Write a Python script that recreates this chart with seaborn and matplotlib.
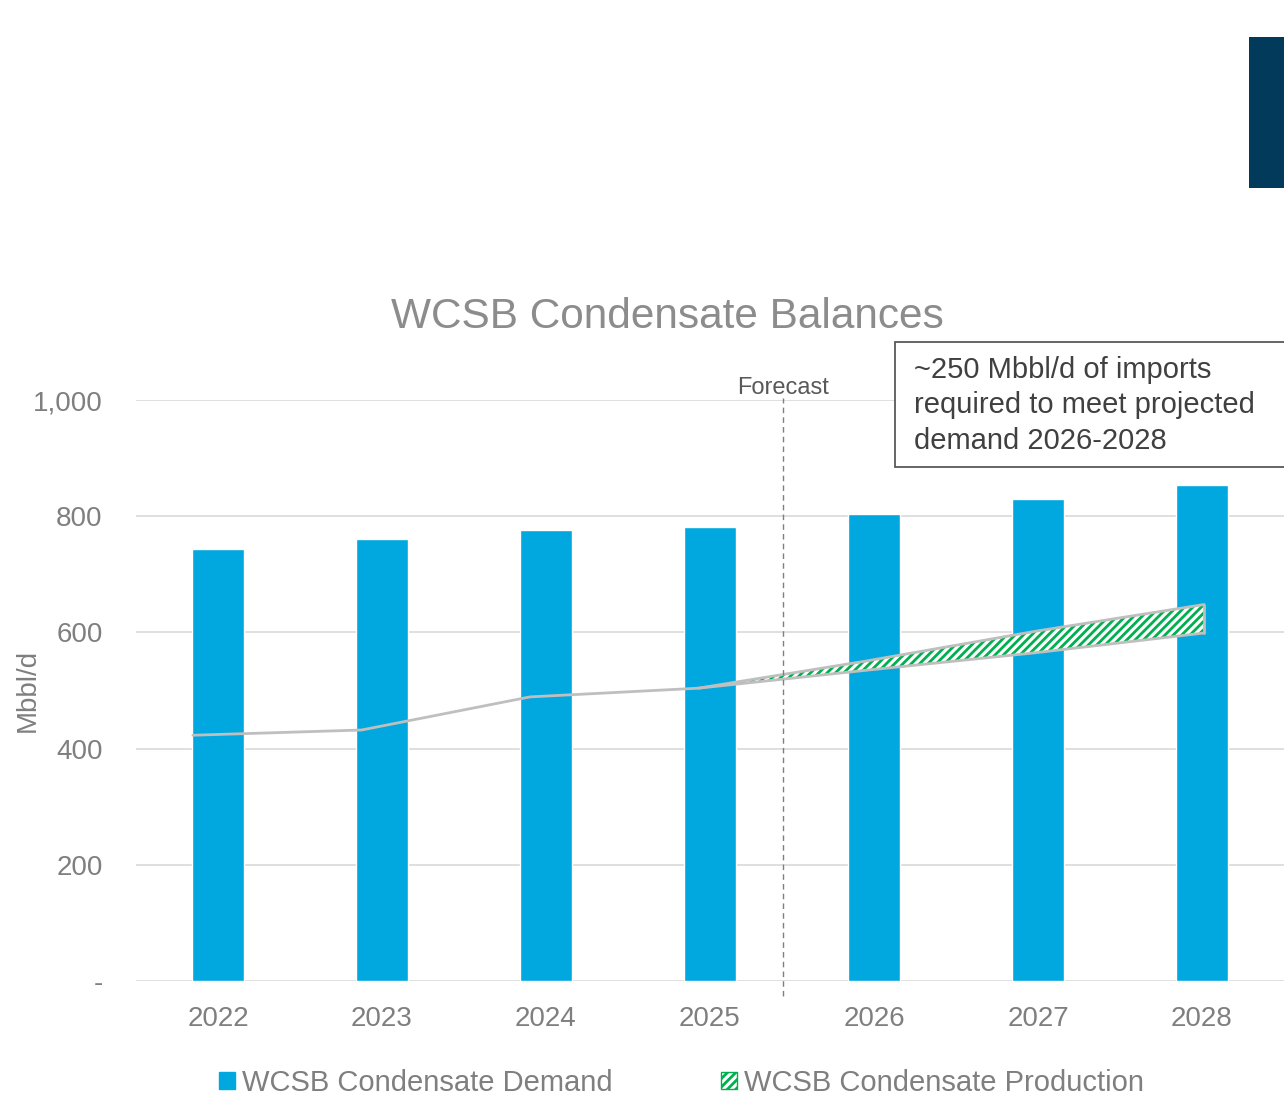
import numpy as np
import pandas as pd
import seaborn as sns
import matplotlib.pyplot as plt
from matplotlib.patches import Patch, Rectangle
from matplotlib.ticker import FuncFormatter

# data (Mbbl/d)
years = ['2022', '2023', '2024', '2025', '2026', '2027', '2028']
demand = [743, 760, 777, 781, 803, 829, 853]
prod_low = [423, 432, 489, 504, 535, 565, 599]
prod_high = [423, 432, 489, 504, 551, 602, 648]
forecast_at = 3.5
box_text = '~250 Mbbl/d of imports\nrequired to meet projected\ndemand 2026-2028'

blue = '#00A8DF'
green = '#00B050'
grey_txt = '#7F7F7F'

sns.set_style('white')
plt.rcParams['font.family'] = ['Liberation Sans', 'DejaVu Sans']
plt.rcParams['hatch.linewidth'] = 2.0

fig = plt.figure(figsize=(12.84, 10.97), dpi=100)
ax = fig.add_axes([136/1284, 1 - 981/1097, 1 - 136/1284, (981 - 400)/1097])

df = pd.DataFrame({'year': years, 'demand': demand})
sns.barplot(data=df, x='year', y='demand', color=blue, saturation=1,
            width=0.315, ax=ax, zorder=2)
ax.set_xlim(-0.5, 6.5)
ax.set_ylim(0, 1000)
ax.set_yticks(range(0, 1001, 200))
ax.yaxis.set_major_formatter(FuncFormatter(lambda v, p: '-' if v == 0 else f'{v:,.0f}'))
ax.grid(axis='y', color='#D9D9D9', lw=1.2)
ax.set_axisbelow(True)
for s in ax.spines.values():
    s.set_visible(False)
ax.tick_params(axis='both', length=0, labelsize=20, labelcolor=grey_txt)
ax.tick_params(axis='x', pad=18)
ax.tick_params(axis='y', pad=24)
ax.set_xlabel('')
ax.set_ylabel('Mbbl/d', fontsize=20, color=grey_txt)
ax.yaxis.set_label_coords(-0.083, 0.5)

# production on a second category axis (spread wider, like the excel area series)
ax2 = ax.twiny()
ax2.set_xlim(-0.338, 6.474)
xs = np.arange(len(years))
ax2.fill_between(xs[3:], prod_low[3:], prod_high[3:], facecolor='white',
                 edgecolor=green, hatch='////', lw=0, zorder=3)
sns.lineplot(x=xs, y=prod_low, ax=ax2, color='#BFBFBF', lw=2, zorder=4)
ax2.plot(xs[3:], prod_high[3:], color='#BFBFBF', lw=2, zorder=4)
ax2.plot([xs[-1], xs[-1]], [prod_low[-1], prod_high[-1]], color='#BFBFBF', lw=2, zorder=4)
ax2.plot([forecast_at, forecast_at], [-25, 1003], color='#7F7F7F', lw=1, ls=(0, (4, 3)),
         clip_on=False, zorder=5)
ax2.text(forecast_at, 1002, 'Forecast', ha='center', va='bottom', fontsize=17, color='#595959')
ax2.set_xticks([])
for s in ax2.spines.values():
    s.set_visible(False)

fig.text(667 / 1284, 1 - 317 / 1097, 'WCSB Condensate Balances', ha='center', va='center',
         fontsize=30.5, color='#8C8C8C')

# annotation box
fig.add_artist(Rectangle((895 / 1284, 1 - 467 / 1097), 420 / 1284, 125 / 1097,
                         transform=fig.transFigure, facecolor='white',
                         edgecolor='#595959', lw=1.3, zorder=10))
fig.text(914 / 1284, 1 - 356 / 1097, box_text, ha='left', va='top', fontsize=21,
         color='#404040', linespacing=1.33, zorder=11)

# dark block in the corner
fig.add_artist(Rectangle((1249 / 1284, 1 - 188 / 1097), 60 / 1284, 151 / 1097,
                         transform=fig.transFigure, facecolor='#023A5B', lw=0))

handles = [Patch(facecolor=blue, edgecolor=blue),
           Patch(facecolor='white', edgecolor=green, hatch='////')]
fig.legend(handles, ['WCSB Condensate Demand', 'WCSB Condensate Production'],
           loc='center left', bbox_to_anchor=(219 / 1284, 1 - 1083 / 1097), ncol=2,
           frameon=False, fontsize=21, labelcolor=grey_txt, handlelength=0.55,
           handleheight=0.55, handletextpad=0.25, columnspacing=3.7,
           borderpad=0, borderaxespad=0)

fig.savefig('out.png', dpi=100)
